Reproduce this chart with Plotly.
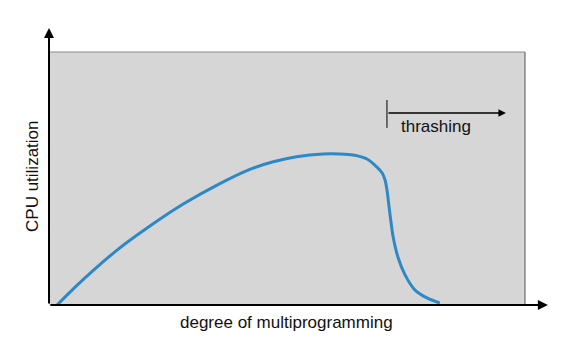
import plotly.graph_objects as go

# Curve: degree of multiprogramming (0-100 across box) vs CPU utilization (0-100)
degree = [1.7, 7.1, 14.3, 21.2, 28.2, 35.3, 42.2, 47.1, 52.0, 57.6, 61.1, 63.9, 66.8,
          68.9, 70.0, 70.6, 71.0, 71.6, 72.3, 73.3, 74.8, 76.9, 79.4, 82.1]
utilization = [0.0, 9.9, 21.7, 31.2, 39.9, 47.4, 53.6, 56.6, 58.6, 59.7, 59.7, 59.3, 57.7,
               54.5, 52.2, 49.4, 45.5, 36.4, 26.9, 19.0, 11.9, 5.9, 2.8, 0.8]

thrash_start = 71.0
thrash_end = 96.0
thrash_level = 75.9
thrash_tick = [70.0, 81.0]
thrash_label = "thrashing"
x_title = "degree of multiprogramming"
y_title = "CPU utilization"

FONT = "Liberation Sans, Arial, Helvetica, sans-serif"

fig = go.Figure()
fig.add_trace(go.Scatter(
    x=degree, y=utilization, mode="lines",
    line=dict(color="#2e88c6", width=3, shape="spline", smoothing=0.8),
    hoverinfo="skip", showlegend=False,
))

shapes = [
    # gray box borders (top and right)
    dict(type="line", xref="paper", yref="paper", x0=0, x1=1, y0=1, y1=1,
         line=dict(color="#8a8a8a", width=1)),
    dict(type="line", xref="paper", yref="paper", x0=1, x1=1, y0=0, y1=1,
         line=dict(color="#555555", width=1)),
    # thrashing tick
    dict(type="line", xref="x", yref="y", x0=thrash_start, x1=thrash_start,
         y0=thrash_tick[0], y1=thrash_tick[1], line=dict(color="black", width=1)),
]

annotations = [
    # y axis arrow
    dict(x=0, y=1.095, xref="paper", yref="paper", ax=0, ay=277, axref="pixel", ayref="pixel",
         text="", showarrow=True, arrowhead=2, arrowsize=1, arrowwidth=2, arrowcolor="black"),
    # x axis arrow
    dict(x=1.048, y=0, xref="paper", yref="paper", ax=-499, ay=0, axref="pixel", ayref="pixel",
         text="", showarrow=True, arrowhead=2, arrowsize=1, arrowwidth=2, arrowcolor="black"),
    # thrashing arrow
    dict(x=thrash_end, y=thrash_level, xref="x", yref="y", ax=thrash_start, ay=thrash_level,
         axref="x", ayref="y", text="", showarrow=True, arrowhead=2, arrowsize=1,
         arrowwidth=1.5, arrowcolor="black"),
    dict(x=81.3, y=70.4, xref="x", yref="y", text=thrash_label, showarrow=False,
         xanchor="center", yanchor="middle", font=dict(family=FONT, size=17, color="#111")),
    dict(x=0.498, y=-0.071, xref="paper", yref="paper", text=x_title, showarrow=False,
         xanchor="center", yanchor="middle", font=dict(family=FONT, size=17, color="#111")),
    dict(x=-0.0336, y=0.51, xref="paper", yref="paper", text=y_title, showarrow=False,
         textangle=-90, xanchor="center", yanchor="middle",
         font=dict(family=FONT, size=17, color="#111")),
]

fig.update_layout(
    width=581, height=352,
    margin=dict(l=49, r=56, t=52, b=47),
    paper_bgcolor="white", plot_bgcolor="#d6d6d6",
    xaxis=dict(range=[0, 100], showgrid=False, zeroline=False, showticklabels=False,
               ticks="", fixedrange=True),
    yaxis=dict(range=[0, 100], showgrid=False, zeroline=False, showticklabels=False,
               ticks="", fixedrange=True),
    shapes=shapes, annotations=annotations, showlegend=False,
)

fig.write_html("out.html")
